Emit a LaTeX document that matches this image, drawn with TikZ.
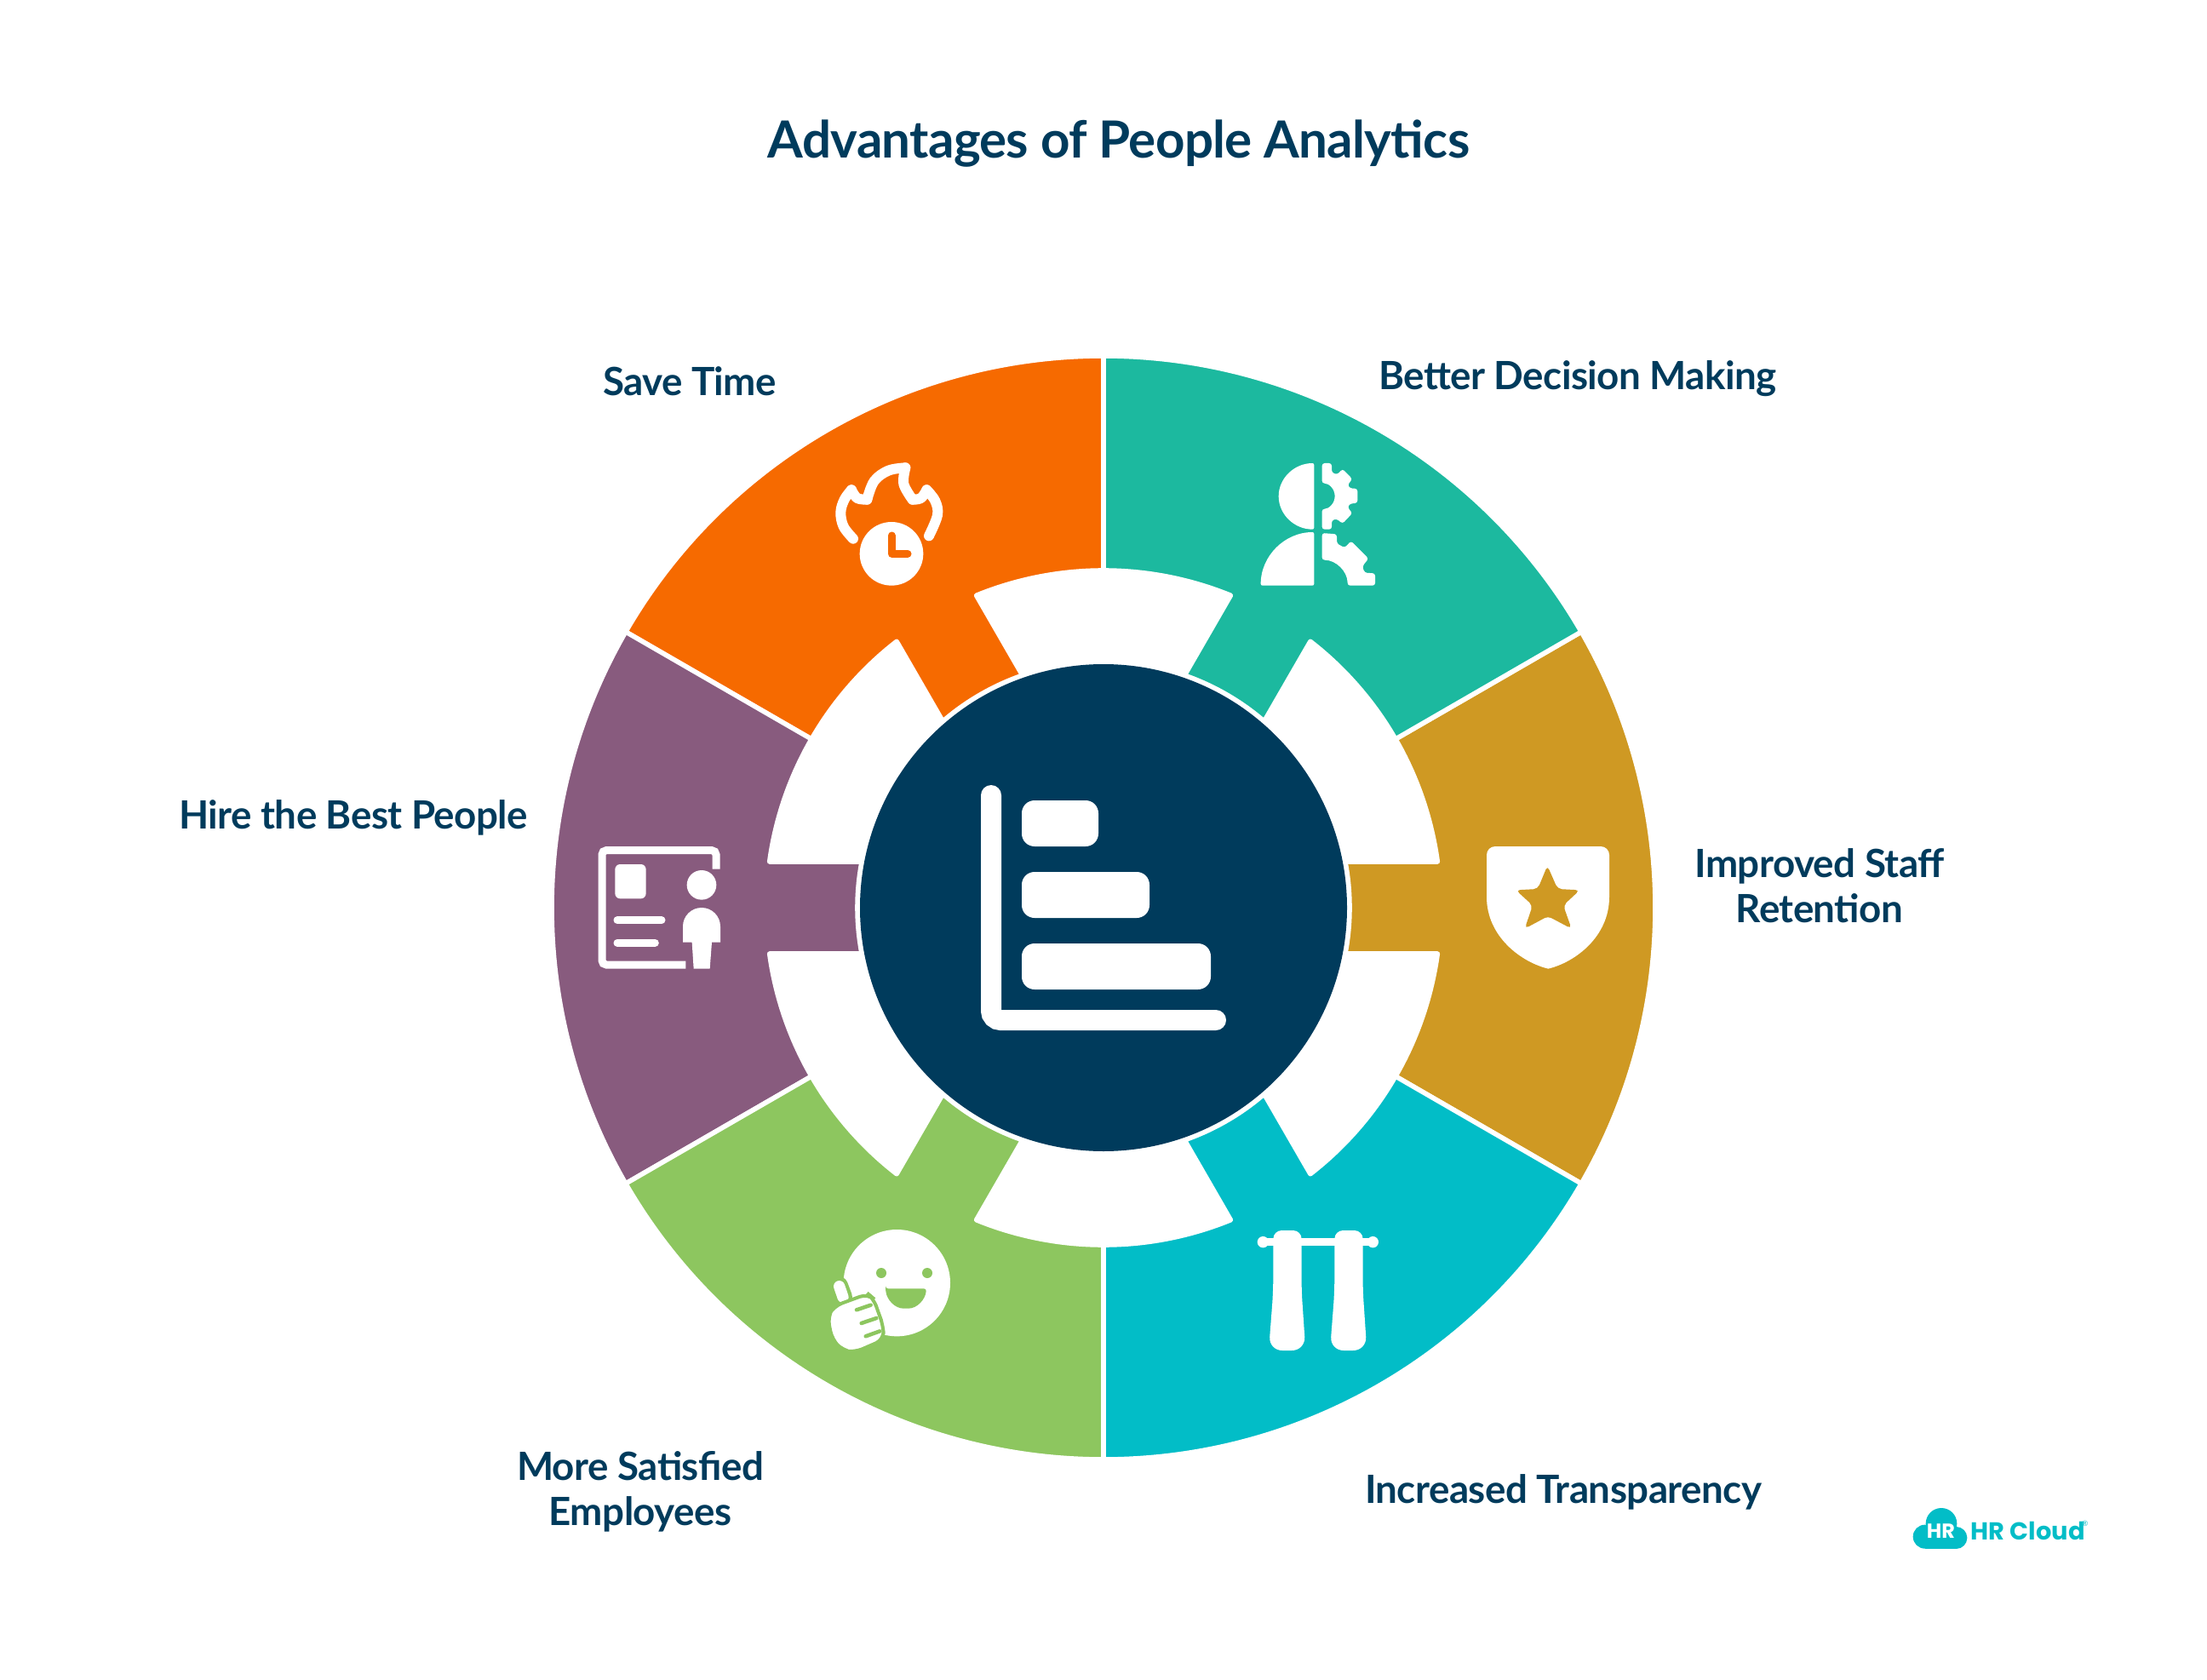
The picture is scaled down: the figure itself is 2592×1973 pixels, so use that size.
\documentclass[tikz,border=0pt]{standalone}
\usepackage{fontspec}
\usepackage{color}
\usepackage{tikz}
\setmainfont{Lato}[LetterSpace=-1.2]
\newfontfamily\logofont{Poppins}
\definecolor{peoplenavy}{RGB}{0,59,92}
\definecolor{peopleorange}{RGB}{246,106,0}
\definecolor{peopleteal}{RGB}{28,185,159}
\definecolor{peoplegold}{RGB}{207,153,35}
\definecolor{peoplecyan}{RGB}{2,189,199}
\definecolor{peoplegreen}{RGB}{141,198,95}
\definecolor{peoplepurple}{RGB}{136,91,126}
\tikzset{
advlabel/.style={text=peoplenavy,font=\bfseries\fontsize{13pt}{15.2pt}\selectfont,align=center,inner sep=0pt},
segment/.style={draw=white,line width=0.56mm,line join=round},
flame/.style={white,line width=1.2mm,line cap=round,line join=round},
}

\begin{document}
\begin{tikzpicture}[x=0.1mm,y=-0.1mm]
\useasboundingbox (0,0) rectangle (2592,1973);

\node (title) [advlabel,font=\bfseries\fontsize{17.1pt}{20pt}\selectfont] at (1314,169) {Advantages of People Analytics};

\begin{scope}[shift={(1296,1066)}]
\foreach \ang/\col in {0/peoplegold,60/peopleteal,120/peopleorange,180/peoplepurple,240/peoplegreen,300/peoplecyan}
{
\filldraw [segment,fill=\col,rotate=\ang] (-30:648) arc[start angle=-30,end angle=30,radius=648] -- (30:396)
  arc[start angle=30,end angle=7.84,radius=396] -- (10.77:289)
  arc[start angle=10.77,end angle=-10.77,radius=289] -- (-7.84:396)
  arc[start angle=-7.84,end angle=-30,radius=396] -- cycle;
}
\end{scope}

\fill [peoplenavy] (1296,1066) circle[radius=286];

\draw [white,line width=2.4mm,line cap=round,rounded corners=1.1mm] (1164,934) -- (1164,1198) -- (1428,1198);
\fill [white,rounded corners=1.5mm] (1200,940) rectangle (1290,994);
\fill [white,rounded corners=1.5mm] (1200,1024) rectangle (1350,1078);
\fill [white,rounded corners=1.5mm] (1200,1108) rectangle (1422,1162);

\begin{scope}[shift={(960,530)},scale=1/3]
\draw [flame] plot[smooth,tension=0.6] coordinates {(126,308) (92,265) (82,215) (95,170) (120,136)};
\draw [flame] plot[smooth,tension=0.6] coordinates {(120,136) (140,165) (175,170)};
\draw [flame] plot[smooth,tension=0.6] coordinates {(175,170) (200,105) (250,68) (310,58)};
\draw [flame] plot[smooth,tension=0.6] coordinates {(310,58) (304,115) (335,170)};
\draw [flame] plot[smooth,tension=0.6] coordinates {(335,170) (365,165) (385,136)};
\draw [flame] plot[smooth,tension=0.6] coordinates {(385,136) (415,175) (423,225) (393,298)};
\fill [white] (261,361) circle[radius=112];
\draw [peopleorange,line width=0.9mm,line cap=round,line join=round] (262,297) -- (262,361) -- (318,361);
\end{scope}

\begin{scope}[shift={(1460,530)},scale=1/3]
\fill [white,rounded corners=0.2mm] (250,42) arc[start angle=-90,end angle=-270,x radius=125,y radius=116.5] -- cycle;
\fill [white,rounded corners=0.2mm] (250,285) arc[start angle=-90,end angle=-180,radius=188] -- (250,473) -- cycle;
\fill [white,rounded corners=0.3mm] (278,42) -- (312,42) -- (312,75) -- (332,82) -- (350,62) -- (385,98) -- (368,118) -- (375,130) -- (403,132)
  -- (403,182) -- (375,185) -- (368,198) -- (385,218) -- (350,255) -- (330,238) -- (312,243) -- (312,275) -- (278,275) -- (278,203)
  arc[start angle=90,end angle=-90,radius=45] -- cycle;
\fill [white,rounded corners=0.3mm] (278,288) -- (330,292) -- (330,325) -- (358,340) -- (380,316) -- (442,378) -- (420,405) -- (428,428) -- (465,430) -- (465,473)
  -- (368,473) arc[start angle=0,end angle=-90,radius=90] -- cycle;
\end{scope}

\begin{scope}[shift={(1700,960)},scale=1/3]
\fill [white,rounded corners=1mm] (138,280) -- (138,102) -- (570,102) [sharp corners] -- (570,280) .. controls (570,420) and (450,510) .. (355,533) .. controls (260,510) and (138,420) .. (138,280) -- cycle;
\fill [peoplegold,rounded corners=0.5mm] (352,170) -- (388,252) -- (466,256) -- (408,310) -- (437,392) -- (354,348) -- (272,392) -- (300,310) -- (241,256) -- (318,252) -- cycle;
\end{scope}

\begin{scope}[shift={(1450,1420)},scale=1/3]
\draw [white,line width=0.9mm] (100,116) -- (487,116);
\fill [white] (100,116) circle[radius=20];
\fill [white] (487,116) circle[radius=20];
\foreach \off in {0,216}
{
\fill [white,rounded corners=1mm,xshift=\off*0.1mm] (136,290) -- (136,75) -- (236,75) -- (236,290) [rounded corners=1.6mm] -- (250,498) -- (120,498) -- cycle;
}
\end{scope}

\begin{scope}[shift={(940,1410)},scale=1/3]
\fill [white] (340,290) circle[radius=188];
\fill [peoplegreen] (285,255) circle[radius=18];
\fill [peoplegreen] (447,255) circle[radius=18];
\fill [peoplegreen,rounded corners=0.3mm] (300,310) -- (444,310) .. controls (440,350) and (410,380) .. (372,380) .. controls (334,380) and (304,350) .. (300,310) -- cycle;
\draw [peoplegreen,line width=2.2mm,line cap=round] (135,300) -- (150,340);
\draw [white,line width=1.33mm,line cap=round] (137,302) -- (150,340);
\filldraw [fill=white,draw=peoplegreen,line width=0.4mm,rounded corners=1mm] (118,372) -- (238,328) -- (258,345) -- (275,395) -- (292,440) -- (294,490) -- (190,535) -- (150,528) -- (112,490) -- (96,410) -- cycle;
\draw [peoplegreen,line width=0.45mm,line cap=round] (198,385) -- (248,368);
\draw [peoplegreen,line width=0.45mm,line cap=round] (215,432) -- (268,414);
\draw [peoplegreen,line width=0.45mm,line cap=round] (230,478) -- (280,460);
\end{scope}

\begin{scope}[shift={(660,950)},scale=1/3]
\draw [white,line width=0.9mm,rounded corners=0.5mm] (543,212) -- (543,146) -- (141,146) -- (141,549) -- (436,549);
\fill [white,rounded corners=0.6mm] (187,195) rectangle (296,316);
\draw [white,line width=0.9mm,line cap=round] (195,392) -- (351,392);
\draw [white,line width=0.9mm,line cap=round] (195,472) -- (328,472);
\fill [white] (492,268) circle[radius=52];
\fill [white] (426,470) -- (426,414) arc[start angle=180,end angle=360,radius=66] -- (558,470) -- (528,470) -- (521,563) -- (464,563) -- (458,470) -- cycle;
\end{scope}

\node (savetime) [advlabel] at (810,448) {Save Time};
\node (decision) [advlabel] at (1853,445) {Better Decision Making};
\node (retention) [advlabel] at (2137,1040) {Improved Staff\\Retention};
\node (transparency) [advlabel] at (1836,1752) {Increased Transparency};
\node (satisfied) [advlabel] at (752,1752) {More Satisfied\\Employees};
\node (hire) [advlabel] at (415,960) {Hire the Best People};

\begin{scope}[shift={(2220,1750)},scale=1/3]
\fill [peoplecyan] (180,118) circle[radius=55];
\fill [peoplecyan] (122,164) circle[radius=42];
\fill [peoplecyan] (232,168) circle[radius=39];
\fill [peoplecyan] (122,140) rectangle (232,206);
\node (cloudtext) [text=white,font=\logofont\bfseries\fontsize{6.8pt}{7pt}\selectfont,inner sep=0pt] at (178,145) {HR};
\node (logotext) [text=peoplecyan,font=\logofont\bfseries\fontsize{8.2pt}{10pt}\selectfont,inner sep=0pt] at (485,145) {HR Cloud};
\node (logomark) [text=peoplecyan,font=\fontsize{2.5pt}{3pt}\selectfont,inner sep=0pt] at (686,118) {®};
\end{scope}
\end{tikzpicture}
\end{document}
